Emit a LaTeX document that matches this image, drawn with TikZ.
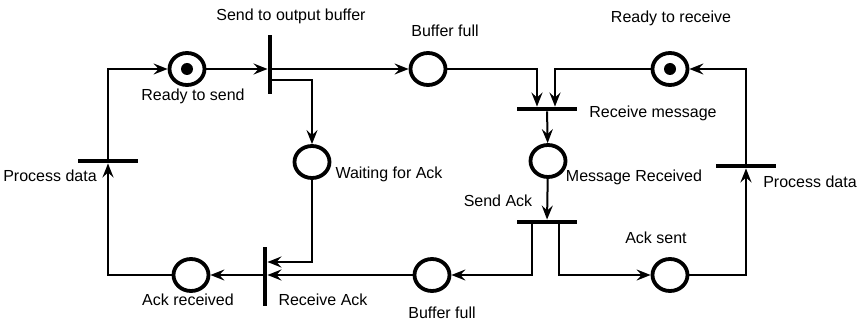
\documentclass[tikz,border=0pt]{standalone}
\usepackage{fontspec}
\setmainfont{Liberation Sans}
\usepackage{tikz}
\usetikzlibrary{arrows.meta,calc,positioning,shapes.geometric}
\tikzset{
    place/.style={ellipse,draw=black,line width=3.8pt,inner sep=0pt,minimum width=35pt,minimum height=32pt},
    marked/.style={place,path picture={\fill[black] (path picture bounding box.center) circle (6pt);}},
    vbar/.style={rectangle,fill=black,inner sep=0pt,minimum width=4.5pt,minimum height=59pt},
    hbar/.style={rectangle,fill=black,inner sep=0pt,minimum width=60pt,minimum height=4.5pt},
    arc/.style={line width=2pt,draw=black,-{Stealth[length=14pt,width=11pt,inset=5pt]}},
    lbl/.style={inner sep=0pt,text height=11.5pt,text depth=3.4pt},
    every node/.style={font=\fontsize{16}{19}\selectfont}
}

\begin{document}
\begin{tikzpicture}[x=1pt,y=-1pt]
  \useasboundingbox (0,0) rectangle (863,323);

  % Stellen (Sender)
  \node[marked] (pReady)  at (187,69)  {};
  \node[place]  (pBufA)   at (428,69)  {};
  \node[place]  (pWait)   at (312,162) {};
  \node[place]  (pAckRcv) at (191,275) {};
  \node[place]  (pBufB)   at (432,275) {};

  % Stellen (Empfaenger)
  \node[marked] (pReadyR)  at (670,69)  {};
  \node[place]  (pMsg)     at (548,161) {};
  \node[place]  (pAckSent) at (670,275) {};

  % Transitionen
  \node[vbar] (tSend)    at (270,65)  {};
  \node[hbar] (tProcL)   at (108,161) {};
  \node[vbar] (tRcvAck)  at (265,277) {};
  \node[hbar] (tRcvMsg)  at (547,109) {};
  \node[hbar] (tSendAck) at (547,222) {};
  \node[hbar] (tProcR)   at (746,166) {};

  % Kanten, linke Seite
  \draw[arc] (tProcL) |- (pReady);
  \draw[arc] (pReady) -- (pReady -| tSend.west);
  \draw[arc] (tSend.east |- pBufA) -- (pBufA);
  \draw[arc] ([yshift=-15pt]tSend.east) -| (pWait);
  \draw[arc] (pWait) |- ([yshift=15pt]tRcvAck.east);
  \draw[arc] (pBufB) -- (pBufB -| tRcvAck.east);
  \draw[arc] (pAckRcv -| tRcvAck.west) -- (pAckRcv);
  \draw[arc] (pAckRcv) -| (tProcL);

  % Kanten, rechte Seite
  \draw[arc] (pBufA) -| ([xshift=-10pt]tRcvMsg.north);
  \draw[arc] (pReadyR) -| ([xshift=8pt]tRcvMsg.north);
  \draw[arc] (tRcvMsg) -- (pMsg);
  \draw[arc] (pMsg) -- (tSendAck);
  \draw[arc] ([xshift=-15pt]tSendAck.south) |- (pBufB);
  \draw[arc] ([xshift=12pt]tSendAck.south) |- (pAckSent);
  \draw[arc] (pAckSent) -| (tProcR);
  \draw[arc] (tProcR) |- (pReadyR);

  % Beschriftungen
  \node[lbl] (lSend)    at (291,16)  {Send to output buffer};
  \node[lbl] (lReady)   at (193,96)  {Ready to send};
  \node[lbl] (lBufA)    at (445,32)  {Buffer full};
  \node[lbl] (lWait)    at (389,174) {Waiting for Ack};
  \node[lbl] (lProcL)   at (50,177)  {Process data};
  \node[lbl] (lAckRcv)  at (188,301) {Ack received};
  \node[lbl] (lRcvAck)  at (323,301) {Receive Ack};
  \node[lbl] (lBufB)    at (442,314) {Buffer full};
  \node[lbl] (lReadyR)  at (671,18)  {Ready to receive};
  \node[lbl] (lRcvMsg)  at (653,113) {Receive message};
  \node[lbl] (lMsg)     at (634,177) {Message Received};
  \node[lbl] (lSendAck) at (498,202) {Send Ack};
  \node[lbl] (lAckSent) at (656,239) {Ack sent};
  \node[lbl] (lProcR)   at (810,183) {Process data};

\end{tikzpicture}
\end{document}
